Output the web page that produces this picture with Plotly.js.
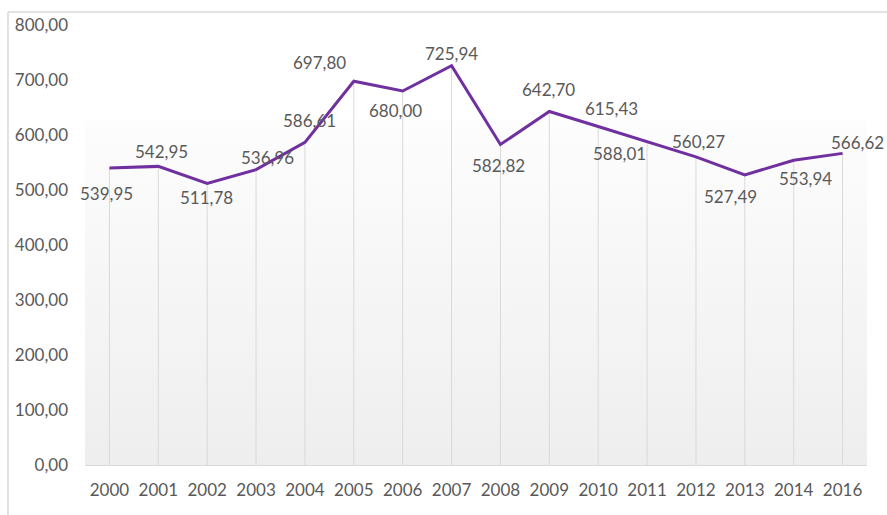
<!DOCTYPE html>
<html>
<head>
<meta charset="utf-8">
<script src="https://cdn.plot.ly/plotly-3.0.1.min.js"></script>
<style>
html,body{margin:0;padding:0;background:#fff;}
#chart{width:887px;height:515px;}
</style>
</head>
<body>
<div id="chart"></div>
<script>
// ---- data ----
var years = ["2000","2001","2002","2003","2004","2005","2006","2007","2008","2009","2010","2011","2012","2013","2014","2016"];
var values = [539.95,542.95,511.78,536.96,586.61,697.80,680.00,725.94,582.82,642.70,615.43,588.01,560.27,527.49,553.94,566.62];
var yTicks = [0,100,200,300,400,500,600,700,800];

// ---- label placement (pixel offsets from each point) ----
var labelDx = [-3, 3, -1, 11, 5, -34, -7, 0, -2, -1, 13, -28, 3, -14, 12, 15];
var labelDy = [25, -15, 14, -12, -22, -19, 19, -12, 21, -22, -18, 12, -15, 22, 18, -11];

function fmt(v){ return v.toFixed(2).replace('.', ','); }

var zeros = values.map(function(){ return 0; });

var trace = {
  type: 'scatter',
  mode: 'lines',
  x: years,
  y: values,
  line: {color: '#7030a0', width: 3},
  error_y: {type: 'data', symmetric: false, array: zeros, arrayminus: values,
            color: '#d9d9d9', thickness: 1, width: 0},
  hoverinfo: 'x+y'
};

var labelFont = {family: 'Lato, Open Sans, sans-serif', size: 17, color: '#595959'};

var annotations = [];
for (var i = 0; i < years.length; i++) {
  annotations.push({
    x: i, y: values[i], xref: 'x', yref: 'y',
    text: fmt(values[i]), showarrow: false,
    xanchor: 'center', yanchor: 'middle',
    xshift: labelDx[i], yshift: -labelDy[i],
    font: labelFont
  });
}

var gradSvg = '<svg xmlns="http://www.w3.org/2000/svg" width="100" height="100" preserveAspectRatio="none">' +
  '<defs><linearGradient id="g" x1="0" y1="0" x2="0" y2="1">' +
  '<stop offset="0" stop-color="#fdfdfd"/><stop offset="1" stop-color="#eeeeee"/>' +
  '</linearGradient></defs><rect width="100" height="100" fill="url(#g)"/></svg>';
var gradUri = 'data:image/svg+xml;base64,' + btoa(gradSvg);

var layout = {
  width: 887, height: 515,
  margin: {l: 85, r: 20, t: 25, b: 50},
  paper_bgcolor: '#ffffff',
  plot_bgcolor: 'rgba(0,0,0,0)',
  separators: ',.',
  showlegend: false,
  font: labelFont,
  xaxis: {
    type: 'category', range: [-0.5, years.length - 0.5],
    showgrid: false, zeroline: false,
    showline: false, ticks: '', ticklabelstandoff: 13,
    tickfont: labelFont,
    fixedrange: true
  },
  yaxis: {
    range: [0, 800], tickvals: yTicks, tickformat: '.2f',
    showgrid: false, zeroline: true, zerolinecolor: '#d9d9d9', zerolinewidth: 1,
    showline: false, ticks: '', ticklabelstandoff: 16,
    tickfont: labelFont,
    fixedrange: true
  },
  images: [{
    source: gradUri, xref: 'paper', yref: 'paper',
    x: 0, y: 0.784, sizex: 1, sizey: 0.784,
    xanchor: 'left', yanchor: 'top', sizing: 'stretch', layer: 'below'
  }],
  shapes: [
    {type: 'line', xref: 'paper', yref: 'paper', x0: -0.0985, x1: 1.1, y0: 1.0295, y1: 1.0295,
     line: {color: '#d9d9d9', width: 1.5}},
    {type: 'line', xref: 'paper', yref: 'paper', x0: -0.0985, x1: -0.0985, y0: 1.0295, y1: -0.2,
     line: {color: '#d9d9d9', width: 1.5}}
  ],
  annotations: annotations
};

Plotly.newPlot('chart', [trace], layout, {displayModeBar: false}).catch(function(e){
  document.body.insertAdjacentHTML('beforeend', '<pre>' + e + '</pre>');
});
</script>
</body>
</html>
